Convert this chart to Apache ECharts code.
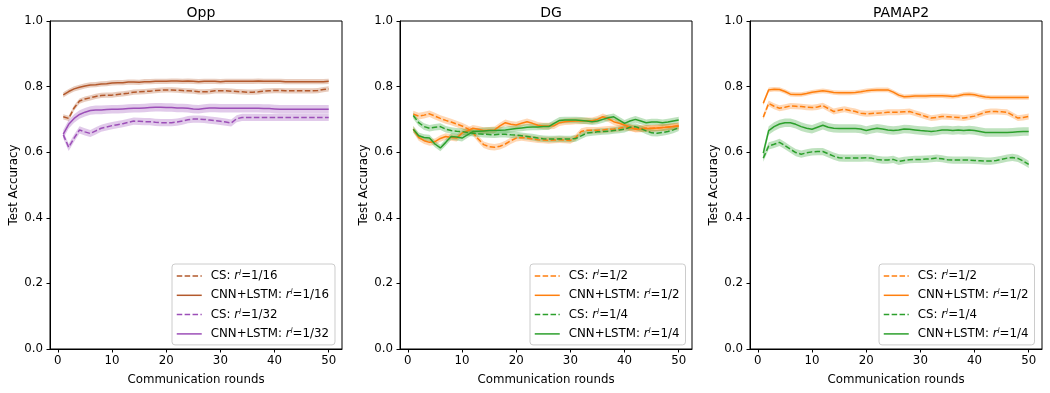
<!DOCTYPE html>
<html><head><meta charset="utf-8">
<script src="https://cdn.jsdelivr.net/npm/echarts@6/dist/echarts.min.js"></script>
<style>html,body{margin:0;padding:0;background:#fff}#c{width:1050px;height:393px}</style>
</head><body><div id="c"></div>
<script>
const rounds = [1,2,3,4,5,6,7,8,9,10,11,12,13,14,15,16,17,18,19,20,21,22,23,24,25,26,27,28,29,30,31,32,33,34,35,36,37,38,39,40,41,42,43,44,45,46,47,48,49,50];
const xTicks = [0,10,20,30,40,50];
const panelTitles = ['Opp','DG','PAMAP2'];

// Opp
const oppCs16 = [0.708,0.703,0.735,0.756,0.762,0.766,0.770,0.773,0.774,0.774,0.776,0.778,0.780,0.783,0.784,0.785,0.786,0.788,0.789,0.790,0.790,0.789,0.788,0.787,0.786,0.784,0.784,0.785,0.787,0.787,0.787,0.786,0.785,0.784,0.783,0.783,0.784,0.786,0.787,0.788,0.788,0.787,0.787,0.787,0.787,0.787,0.787,0.788,0.791,0.793];
const oppLstm16 = [0.775,0.785,0.793,0.798,0.802,0.805,0.806,0.808,0.809,0.811,0.812,0.812,0.814,0.814,0.813,0.815,0.815,0.816,0.816,0.816,0.817,0.817,0.816,0.817,0.816,0.815,0.816,0.816,0.816,0.815,0.816,0.816,0.816,0.816,0.816,0.816,0.817,0.816,0.816,0.816,0.816,0.815,0.815,0.815,0.815,0.815,0.815,0.815,0.815,0.816];
const oppCs32 = [0.653,0.615,0.643,0.668,0.662,0.657,0.665,0.673,0.677,0.681,0.684,0.687,0.691,0.695,0.694,0.693,0.693,0.691,0.690,0.690,0.690,0.692,0.695,0.699,0.701,0.701,0.700,0.698,0.696,0.694,0.692,0.689,0.702,0.706,0.706,0.706,0.706,0.706,0.706,0.706,0.706,0.706,0.706,0.706,0.706,0.706,0.706,0.706,0.706,0.706];
const oppLstm32 = [0.655,0.685,0.703,0.715,0.722,0.727,0.729,0.729,0.730,0.731,0.731,0.732,0.733,0.734,0.734,0.735,0.736,0.737,0.737,0.736,0.736,0.735,0.735,0.734,0.732,0.731,0.733,0.735,0.735,0.734,0.734,0.734,0.734,0.734,0.734,0.734,0.734,0.733,0.733,0.732,0.731,0.731,0.731,0.731,0.731,0.731,0.731,0.731,0.731,0.731];
// DG
const dgCs2 = [0.716,0.710,0.713,0.717,0.710,0.703,0.697,0.692,0.686,0.680,0.672,0.660,0.640,0.623,0.617,0.615,0.618,0.625,0.635,0.643,0.645,0.643,0.640,0.638,0.637,0.636,0.637,0.638,0.637,0.636,0.645,0.663,0.667,0.667,0.667,0.668,0.670,0.671,0.673,0.676,0.674,0.672,0.672,0.673,0.673,0.674,0.675,0.677,0.678,0.680];
const dgLstm2 = [0.670,0.645,0.635,0.630,0.632,0.642,0.648,0.645,0.643,0.658,0.665,0.673,0.670,0.666,0.667,0.668,0.680,0.690,0.685,0.683,0.688,0.693,0.688,0.682,0.680,0.680,0.681,0.690,0.693,0.694,0.695,0.695,0.696,0.696,0.700,0.708,0.702,0.693,0.688,0.683,0.676,0.670,0.671,0.672,0.672,0.674,0.675,0.676,0.678,0.680];
const dgCs4 = [0.712,0.690,0.678,0.673,0.676,0.678,0.670,0.666,0.664,0.663,0.660,0.658,0.656,0.655,0.654,0.653,0.655,0.655,0.653,0.652,0.650,0.648,0.646,0.643,0.641,0.640,0.640,0.641,0.640,0.640,0.642,0.650,0.658,0.660,0.662,0.663,0.664,0.666,0.668,0.670,0.676,0.678,0.672,0.665,0.659,0.658,0.660,0.663,0.668,0.675];
const dgLstm4 = [0.670,0.650,0.645,0.643,0.625,0.613,0.630,0.648,0.646,0.643,0.653,0.663,0.664,0.665,0.666,0.666,0.667,0.668,0.670,0.672,0.674,0.676,0.677,0.677,0.678,0.678,0.688,0.697,0.698,0.698,0.698,0.697,0.695,0.693,0.695,0.700,0.705,0.708,0.698,0.688,0.695,0.700,0.695,0.690,0.692,0.692,0.690,0.692,0.695,0.698];
// PAMAP2
const pmCs2 = [0.707,0.749,0.740,0.734,0.737,0.741,0.740,0.739,0.737,0.736,0.738,0.742,0.733,0.724,0.728,0.731,0.727,0.724,0.719,0.717,0.718,0.719,0.720,0.722,0.722,0.722,0.723,0.724,0.719,0.714,0.709,0.704,0.706,0.709,0.708,0.707,0.706,0.704,0.707,0.710,0.716,0.722,0.724,0.724,0.723,0.722,0.713,0.704,0.706,0.709];
const pmLstm2 = [0.749,0.790,0.792,0.791,0.785,0.777,0.776,0.776,0.779,0.783,0.785,0.787,0.785,0.782,0.781,0.781,0.781,0.782,0.784,0.787,0.789,0.790,0.790,0.790,0.783,0.774,0.769,0.770,0.771,0.771,0.771,0.772,0.772,0.772,0.771,0.770,0.772,0.776,0.777,0.775,0.771,0.768,0.767,0.767,0.767,0.767,0.767,0.767,0.767,0.767];
const pmCs4 = [0.582,0.619,0.624,0.630,0.620,0.609,0.599,0.594,0.598,0.601,0.602,0.602,0.595,0.588,0.583,0.582,0.582,0.582,0.582,0.583,0.582,0.578,0.576,0.576,0.578,0.572,0.575,0.577,0.578,0.578,0.579,0.580,0.582,0.580,0.577,0.576,0.576,0.576,0.576,0.575,0.574,0.573,0.573,0.575,0.578,0.582,0.584,0.581,0.573,0.563];
const pmLstm4 = [0.597,0.666,0.678,0.686,0.690,0.690,0.685,0.678,0.673,0.670,0.676,0.682,0.676,0.673,0.672,0.672,0.672,0.672,0.671,0.666,0.670,0.673,0.671,0.668,0.666,0.668,0.671,0.670,0.668,0.666,0.665,0.663,0.665,0.668,0.668,0.666,0.668,0.666,0.668,0.666,0.663,0.660,0.660,0.660,0.660,0.660,0.661,0.662,0.663,0.663];

// half widths of the shaded bands (order: CS a, CNN+LSTM a, CS b, CNN+LSTM b)
const oppBand = [0.008, 0.008, 0.011, 0.013];
const dgBand = [0.010, 0.010, 0.010, 0.010];
const pmBand = [0.009, 0.007, 0.011, 0.013];

const BROWN = '#b3592c', PURPLE = '#9c4fb8', ORANGE = '#ff7f0e', GREEN = '#2ca02c';
const panels = [
  {title: panelTitles[0], left: 50, legendLeft: 172, band: oppBand, lines: [
    ['CS', '1/16', BROWN, true, oppCs16], ['CNN+LSTM', '1/16', BROWN, false, oppLstm16],
    ['CS', '1/32', PURPLE, true, oppCs32], ['CNN+LSTM', '1/32', PURPLE, false, oppLstm32]]},
  {title: panelTitles[1], left: 400, legendLeft: 530, band: dgBand, lines: [
    ['CS', '1/2', ORANGE, true, dgCs2], ['CNN+LSTM', '1/2', ORANGE, false, dgLstm2],
    ['CS', '1/4', GREEN, true, dgCs4], ['CNN+LSTM', '1/4', GREEN, false, dgLstm4]]},
  {title: panelTitles[2], left: 750, legendLeft: 879, band: pmBand, lines: [
    ['CS', '1/2', ORANGE, true, pmCs2], ['CNN+LSTM', '1/2', ORANGE, false, pmLstm2],
    ['CS', '1/4', GREEN, true, pmCs4], ['CNN+LSTM', '1/4', GREEN, false, pmLstm4]]}
];

const FONT = 'DejaVu Sans';
const FS = 11.8;
const W = 292, TOP = 21, H = 328;
const grid = [], xAxis = [], yAxis = [], title = [], legend = [], series = [];

panels.forEach((p, i) => {
  grid.push({left: p.left, top: TOP, width: W, height: H, show: true, borderColor: '#000', borderWidth: 1, backgroundColor: 'transparent'});
  xAxis.push({
    type: 'value', gridIndex: i, min: -1.45, max: 52.45,
    name: 'Communication rounds', nameLocation: 'middle', nameGap: 25,
    nameTextStyle: {color: '#000', fontSize: FS, fontFamily: FONT},
    axisLine: {show: true, onZero: false, lineStyle: {color: '#000', width: 1}},
    axisTick: {show: true, customValues: xTicks, length: 3.5, lineStyle: {color: '#000'}},
    axisLabel: {show: true, customValues: xTicks, color: '#000', fontSize: FS, fontFamily: FONT, margin: 6},
    splitLine: {show: false}
  });
  yAxis.push({
    type: 'value', gridIndex: i, min: 0, max: 1, interval: 0.2,
    name: 'Test Accuracy', nameLocation: 'middle', nameGap: 30,
    nameTextStyle: {color: '#000', fontSize: FS, fontFamily: FONT},
    axisLine: {show: true, onZero: false, lineStyle: {color: '#000', width: 1}},
    axisTick: {show: true, length: 3.5, lineStyle: {color: '#000'}},
    axisLabel: {color: '#000', fontSize: FS, fontFamily: FONT, margin: 7, formatter: v => v.toFixed(1)},
    splitLine: {show: false}
  });
  title.push({text: p.title, left: p.left + W / 2, textAlign: 'center', top: 1,
    textStyle: {color: '#000', fontSize: 14, fontWeight: 'normal', fontFamily: FONT}});
  const names = [];
  p.lines.forEach((ln, k) => {
    const [method, ratio, color, dashed, vals] = ln;
    const name = p.title + '|' + method + '|' + ratio;
    names.push(name);
    const hw = p.band[k];
    series.push({
      type: 'custom', name: name + '|band', xAxisIndex: i, yAxisIndex: i, silent: true, z: 1,
      data: rounds.map((r, j) => [r, vals[j] - hw, vals[j] + hw]),
      encode: {x: 0, y: [1, 2]},
      renderItem: (params, api) => {
        if (params.dataIndex !== 0) return null;
        const up = rounds.map((r, j) => api.coord([r, vals[j] + hw]));
        const lo = rounds.map((r, j) => api.coord([r, vals[j] - hw])).reverse();
        return {type: 'polygon', shape: {points: up.concat(lo)}, style: {fill: color, opacity: 0.3}};
      }
    });
    series.push({
      type: 'line', name: name, xAxisIndex: i, yAxisIndex: i,
      data: rounds.map((r, j) => [r, vals[j]]), showSymbol: false, symbol: 'none',
      itemStyle: {color: color},
      lineStyle: {color: color, width: 1.5, type: dashed ? [5.5, 2.4] : 'solid'}, z: 3
    });
  });
  legend.push({
    data: names, orient: 'vertical', left: p.legendLeft, top: 264,
    itemWidth: 25, itemHeight: 10, itemGap: 5.3,
    padding: [5, 6, 4, 4],
    backgroundColor: 'rgba(255,255,255,0.8)', borderColor: '#cccccc', borderWidth: 1, borderRadius: 3,
    selectedMode: false,
    itemStyle: {opacity: 0},
    lineStyle: {width: 1.5},
    formatter: n => {
      const q = n.split('|');
      return '{a|' + q[1] + ': }{i|r}{s|l}{t|=' + q[2] + '}';
    },
    textStyle: {
      color: '#000', fontSize: FS, fontFamily: FONT, lineHeight: 14,
      rich: {
        a: {color: '#000', fontSize: FS, fontFamily: FONT, lineHeight: 14, padding: [0, 0, 0, 4]},
        i: {color: '#000', fontSize: FS, fontFamily: FONT, lineHeight: 14, fontStyle: 'italic'},
        s: {color: '#000', fontSize: 7.5, fontFamily: FONT, fontStyle: 'italic', verticalAlign: 'top', padding: [0, 0, 5, 0]},
        t: {color: '#000', fontSize: FS, fontFamily: FONT, lineHeight: 14}
      }
    }
  });
});

const chart = echarts.init(document.getElementById('c'), null, {renderer: 'canvas'});
chart.setOption({
  animation: false,
  backgroundColor: '#fff',
  title, grid, xAxis, yAxis, legend, series
});
</script></body></html>
